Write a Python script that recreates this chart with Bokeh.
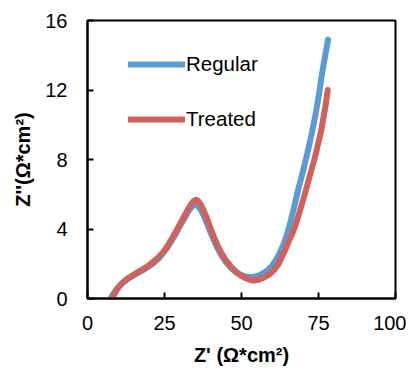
from bokeh.plotting import figure
from bokeh.models import Range1d, FixedTicker, Legend, LegendItem
from bokeh.embed import file_html
from bokeh.resources import INLINE

regular_x = [7.5, 8.3, 9.2, 10.3, 11.6, 13.1, 14.7, 16.4, 18.0, 19.8, 21.5, 23.1, 24.6, 26.1, 27.5,
             28.9, 30.2, 31.5, 32.6, 33.5, 34.3, 35.1, 35.9, 36.8, 37.8, 38.9, 39.9, 41.0, 42.1, 43.4,
             44.8, 46.4, 48.1, 49.7, 51.3, 52.7, 54.0, 55.5, 57.0, 58.5, 60.0, 61.3, 62.5, 63.6, 64.7,
             65.9, 67.2, 68.6, 70.0, 71.3, 72.7, 74.0, 75.2, 76.2, 77.2, 78.1]
regular_y = [0, 0.25, 0.48, 0.72, 0.93, 1.12, 1.30, 1.47, 1.63, 1.83, 2.05, 2.30, 2.62, 2.98, 3.37,
             3.80, 4.22, 4.62, 4.97, 5.20, 5.34, 5.40, 5.32, 5.10, 4.74, 4.28, 3.82, 3.36, 2.93, 2.50,
             2.12, 1.79, 1.52, 1.36, 1.27, 1.24, 1.25, 1.31, 1.44, 1.63, 1.90, 2.25, 2.65, 3.10, 3.65,
             4.40, 5.35, 6.40, 7.35, 8.30, 9.40, 10.55, 11.80, 13.0, 14.0, 14.9]

treated_x = [8.0, 8.8, 9.6, 10.6, 11.8, 13.3, 15.0, 16.7, 18.3, 20.0, 21.5, 23.2, 24.8, 26.2, 27.5,
             28.9, 30.2, 31.5, 32.6, 33.5, 34.3, 35.1, 35.9, 36.8, 37.8, 38.9, 39.9, 41.0, 42.1, 43.4,
             44.8, 46.4, 48.1, 49.7, 51.3, 52.7, 54.0, 55.6, 57.2, 58.9, 60.5, 61.9, 63.0, 64.1, 65.0,
             66.3, 67.5, 68.9, 70.2, 71.1, 72.0, 72.8, 73.5, 74.3, 75.0, 75.8, 76.5, 77.3, 78.0]
treated_y = [0, 0.28, 0.52, 0.76, 0.98, 1.18, 1.37, 1.55, 1.72, 1.92, 2.14, 2.40, 2.72, 3.08, 3.49,
             3.92, 4.35, 4.76, 5.13, 5.40, 5.58, 5.68, 5.62, 5.40, 5.03, 4.56, 4.06, 3.56, 3.10, 2.64,
             2.24, 1.87, 1.56, 1.33, 1.17, 1.08, 1.04, 1.08, 1.20, 1.37, 1.62, 1.95, 2.35, 2.75, 3.15,
             3.65, 4.20, 5.00, 5.80, 6.35, 6.95, 7.45, 7.90, 8.45, 9.00, 9.60, 10.30, 11.10, 12.0]

x_ticks = [0, 25, 50, 75, 100]
y_ticks = [0, 4, 8, 12, 16]

FONT = "Liberation Sans"

p = figure(frame_width=308, frame_height=278, output_backend="svg", toolbar_location=None,
           x_range=Range1d(0, 100), y_range=Range1d(0, 16),
           min_border_left=87, min_border_right=11, min_border_top=20, min_border_bottom=73)

p.background_fill_color = "white"
p.border_fill_color = "white"
p.outline_line_color = "black"
p.outline_line_width = 2
p.grid.visible = False

for ax in (p.xaxis[0], p.yaxis[0]):
    ax.axis_line_width = 2
    ax.axis_line_color = "black"
    ax.major_tick_in = 6
    ax.major_tick_out = 0
    ax.major_tick_line_width = 2
    ax.minor_tick_line_color = None
    ax.major_label_text_font = FONT
    ax.major_label_text_font_size = "20px"
    ax.major_label_text_color = "black"
    ax.axis_label_text_font = FONT
    ax.axis_label_text_font_size = "20px"
    ax.axis_label_text_font_style = "bold"
    ax.axis_label_text_color = "black"

p.xaxis.ticker = FixedTicker(ticks=x_ticks)
p.yaxis.ticker = FixedTicker(ticks=y_ticks)
p.xaxis.major_label_standoff = 17
p.yaxis.major_label_standoff = 20
p.xaxis.axis_label = "Z' (Ω*cm²)"
p.yaxis.axis_label = "Z''(Ω*cm²)"
p.xaxis.axis_label_standoff = 11
p.yaxis.axis_label_standoff = 8

r1 = p.line(regular_x, regular_y, line_color="#5B9BD5", line_width=6, line_cap="round", line_join="round")
r2 = p.line(treated_x, treated_y, line_color="#CF625B", line_width=6, line_cap="round", line_join="round")

legend = Legend(items=[LegendItem(label="Regular", renderers=[r1]),
                       LegendItem(label="Treated", renderers=[r2])],
                location=(41, 167), orientation="vertical",
                glyph_width=57, glyph_height=20, label_height=20, spacing=31,
                label_standoff=1, padding=0, margin=0,
                border_line_color=None, background_fill_alpha=0,
                label_text_font=FONT, label_text_font_size="20.5px", label_text_color="black")
p.add_layout(legend)

open("out.html", "w").write(file_html(p, INLINE))
